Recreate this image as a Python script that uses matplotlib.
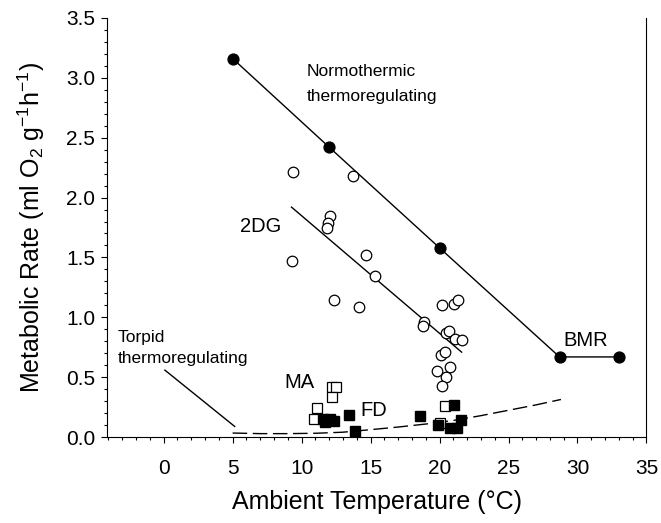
import numpy as np
import matplotlib.pyplot as plt

plt.rcParams['font.family'] = ['Liberation Sans', 'DejaVu Sans']
plt.rcParams['mathtext.fontset'] = 'custom'
plt.rcParams['mathtext.rm'] = 'Liberation Sans'
plt.rcParams['mathtext.it'] = 'Liberation Sans:italic'

# Normothermic thermoregulating (filled circles), last two = BMR
norm_t = [5.0, 12.0, 20.0, 28.7, 33.0]
norm_mr = [3.16, 2.42, 1.58, 0.67, 0.67]

# 2DG (open circles)
dg_t = [9.4, 13.7, 12.05, 11.93, 11.86, 9.3, 14.66, 15.31, 12.34, 14.18,
        18.89, 18.77, 20.19, 21.04, 21.35, 20.5, 20.7, 21.11, 21.64,
        20.07, 20.43, 19.83, 20.75, 20.5, 20.2]
dg_mr = [2.21, 2.18, 1.85, 1.79, 1.75, 1.47, 1.52, 1.345, 1.145, 1.09,
         0.96, 0.93, 1.10, 1.11, 1.145, 0.87, 0.89, 0.82, 0.81,
         0.685, 0.71, 0.554, 0.587, 0.50, 0.426]
# 2DG regression line end points
dg_fit_t = [9.27, 21.6]
dg_fit_mr = [1.92, 0.71]

# MA (open squares)
ma_t = [12.17, 12.46, 12.17, 11.13, 10.91, 20.38, 20.02]
ma_mr = [0.415, 0.415, 0.337, 0.248, 0.148, 0.259, 0.12]

# FD (filled squares)
fd_t = [11.52, 11.69, 12.05, 12.36, 13.43, 13.86, 18.62, 21.06, 19.86,
        20.75, 21.28, 21.52]
fd_mr = [0.156, 0.128, 0.148, 0.136, 0.184, 0.05, 0.178, 0.273, 0.10,
         0.073, 0.073, 0.142]

# Torpid thermoregulating (dashed curve)
torpid_t = [5, 7, 9, 11, 13, 15, 17, 19, 21, 23, 25, 27, 28.8]
torpid_mr = [0.035, 0.03, 0.03, 0.033, 0.042, 0.063, 0.085, 0.11, 0.14,
             0.18, 0.225, 0.27, 0.315]

fig = plt.figure(figsize=(6.61, 5.23), dpi=100)
ax = fig.add_axes([0.162, 0.164, 0.816, 0.802])

ax.plot(norm_t, norm_mr, color='black', lw=1.0, marker='o', ms=7.8,
        mfc='black', mec='black', zorder=3)
ax.plot(dg_fit_t, dg_fit_mr, color='black', lw=1.0, zorder=2)
ax.plot(dg_t, dg_mr, ls='none', marker='o', ms=7.6, mfc='white',
        mec='black', mew=0.9, zorder=3)
ax.plot(torpid_t, torpid_mr, color='black', lw=1.0, dashes=(10.5, 4),
        zorder=2)
ax.plot(ma_t, ma_mr, ls='none', marker='s', ms=6.6, mfc='white',
        mec='black', mew=0.9, zorder=3)
ax.plot(fd_t, fd_mr, ls='none', marker='s', ms=6.6, mfc='black',
        mec='black', zorder=4)

# labels in the plot
ax.text(10.4, 3.05, 'Normothermic', fontsize=12.5, va='center')
ax.text(10.4, 2.84, 'thermoregulating', fontsize=12.5, va='center')
ax.text(-3.3, 0.835, 'Torpid', fontsize=12.5, va='center')
ax.text(-3.3, 0.66, 'thermoregulating', fontsize=12.5, va='center')
ax.plot([0.09, 5.15], [0.56, 0.09], color='black', lw=1.0)
ax.text(5.5, 1.76, '2DG', fontsize=14.5, va='center')
ax.text(8.77, 0.455, 'MA', fontsize=14.5, va='center')
ax.text(14.27, 0.226, 'FD', fontsize=14.5, va='center')
ax.text(29.0, 0.81, 'BMR', fontsize=14.5, va='center')

ax.set_xlim(-4.1, 35)
ax.set_ylim(0, 3.5)
ax.set_xticks(np.arange(0, 36, 5))
ax.set_xticks(np.arange(-4, 36, 1), minor=True)
ax.set_yticks(np.arange(0, 3.51, 0.5))
ax.set_yticks(np.arange(0, 3.51, 0.1), minor=True)
ax.yaxis.set_major_formatter(plt.FormatStrFormatter('%.1f'))
ax.tick_params(which='major', direction='out', length=4.5, width=0.8,
               labelsize=15)
ax.tick_params(which='minor', direction='out', length=2.5, width=0.8)
ax.tick_params(axis='x', pad=11)
ax.tick_params(axis='y', pad=4)
ax.spines['top'].set_visible(False)
for s in ['left', 'bottom', 'right']:
    ax.spines[s].set_linewidth(0.8)

ax.set_xlabel('Ambient Temperature (°C)', fontsize=18, labelpad=9)
ax.set_ylabel(r'Metabolic Rate (ml O$_2$ g$^{-1}$h$^{-1}$)', fontsize=18,
              labelpad=14)

plt.savefig('out.png', dpi=100)
